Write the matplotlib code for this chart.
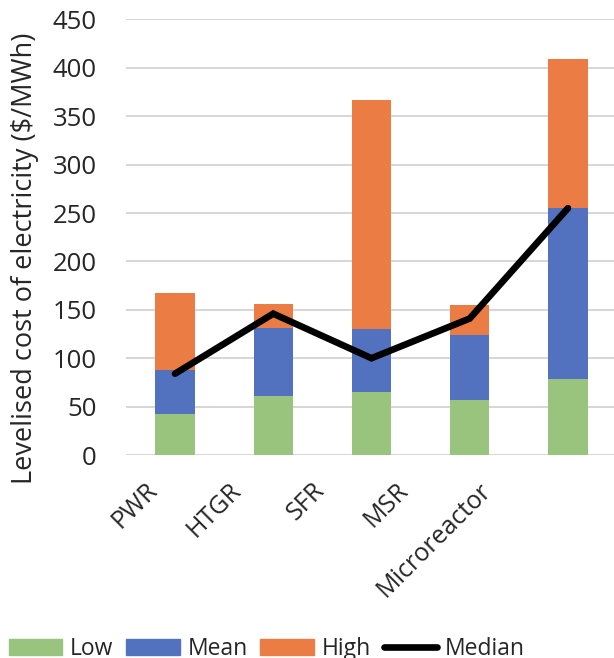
import matplotlib
matplotlib.use("Agg")
import matplotlib.pyplot as plt
import numpy as np
from matplotlib.transforms import ScaledTranslation
from matplotlib.patches import Patch
from matplotlib.lines import Line2D

plt.rcParams['font.family'] = ['Open Sans', 'DejaVu Sans']

reactors = ["PWR", "HTGR", "SFR", "MSR", "Microreactor"]
low = np.array([42, 61, 65, 57, 79])
mean = np.array([88, 131, 130, 124, 255])
high = np.array([167, 156, 367, 155, 409])
median = np.array([84, 146, 100, 141, 255])

c_low = "#98C47D"
c_mean = "#5271BE"
c_high = "#EA7C44"
txt = "#262626"

fig = plt.figure(figsize=(6.14, 6.58), dpi=100)
ax = fig.add_axes([0.205, 0.3085, 0.80, 0.662])

x = np.arange(len(reactors))
w = 0.4
ax.bar(x, low, w, color=c_low, zorder=2)
ax.bar(x, mean - low, w, bottom=low, color=c_mean, zorder=2)
ax.bar(x, high - mean, w, bottom=mean, color=c_high, zorder=2)
ax.plot(x, median, color="black", lw=4.8, solid_capstyle="round",
        solid_joinstyle="miter", zorder=3)

ax.set_xlim(-0.5, len(reactors) - 0.5)
ax.set_ylim(0, 450)
ax.set_yticks(np.arange(0, 451, 50))
ax.yaxis.grid(True, color="#D0D0D0", lw=1.2, zorder=0)
ax.set_axisbelow(True)
for s in ax.spines.values():
    s.set_visible(False)
ax.tick_params(axis="both", length=0, colors=txt)
ax.tick_params(axis="y", pad=21, labelsize=18.5)

ax.set_xticks(x)
ax.set_xticklabels(reactors, rotation=45, ha="right", va="center",
                   rotation_mode="anchor", fontsize=18)
ax.tick_params(axis="x", pad=23)
# Excel-style drift of the slanted labels
for i, lbl in enumerate(ax.get_xticklabels()):
    lbl.set_transform(lbl.get_transform() +
                      ScaledTranslation(-(0.21 + 0.148 * i), 0, fig.dpi_scale_trans))

ax.set_ylabel("Levelised cost of electricity ($/MWh)", fontsize=19.5, color=txt)
ax.yaxis.set_label_coords(-0.176, 0.452)

handles = [Patch(color=c_low), Patch(color=c_mean), Patch(color=c_high),
           Line2D([], [], color="black", lw=4.8, solid_capstyle="round")]
fig.legend(handles, ["Low", "Mean", "High", "Median"], ncol=4, frameon=False,
           loc="center left", bbox_to_anchor=(0.014, 0.014), fontsize=16.5,
           handlelength=2.35, handletextpad=0.33, columnspacing=0.55,
           borderpad=0, borderaxespad=0, labelcolor=txt)

fig.savefig("out.png", dpi=100)
